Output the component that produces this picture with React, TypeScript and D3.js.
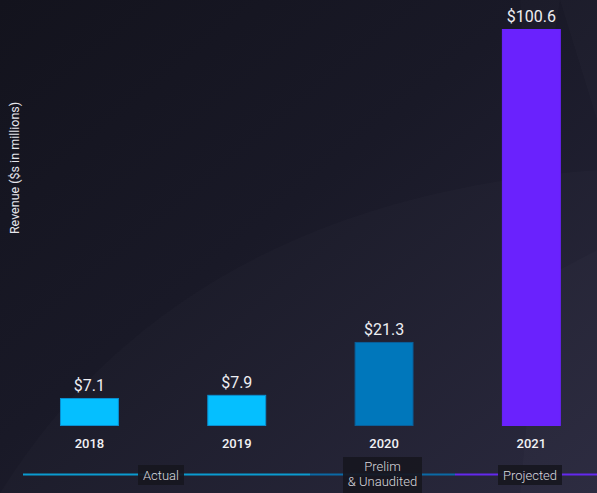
import { useEffect, useRef } from "react";
import * as d3 from "d3";

const years = ["2018", "2019", "2020", "2021"];
const revenue = [7.1, 7.9, 21.3, 100.6];
const barColors = ["#05bfff", "#05bfff", "#0077bb", "#6a22fd"];
const barStrokes = ["#0a8fd0", "#0a8fd0", "#0a5f9a", "#6a22fd"];
const valueLabels = ["$7.1", "$7.9", "$21.3", "$100.6"];

// status bands along the bottom line
const phases = ["Actual", "Prelim\n& Unaudited", "Projected"];
const phaseLineColors = ["#0a9bd0", "#0a6aa6", "#6428ee"];

const W = 597;
const H = 493;

export default function App() {
  const svgRef = useRef<SVGSVGElement>(null);

  useEffect(() => {
    document.body.style.margin = "0";
    const svg = d3.select(svgRef.current);
    svg.selectAll("*").remove();

    const defs = svg.append("defs");
    const bg = defs
      .append("linearGradient")
      .attr("id", "bg")
      .attr("x1", "0%")
      .attr("y1", "0%")
      .attr("x2", "100%")
      .attr("y2", "100%");
    bg.append("stop").attr("offset", "0%").attr("stop-color", "#13131d");
    bg.append("stop").attr("offset", "45%").attr("stop-color", "#191927");
    bg.append("stop").attr("offset", "100%").attr("stop-color", "#27263b");

    svg.append("rect").attr("width", W).attr("height", H).attr("fill", "url(#bg)");

    // faint decorative shapes in the background
    const shapes = [
      "M0,493 C120,300 320,190 597,170 L597,493 Z",
      "M520,0 L560,0 L530,190 Z",
      "M560,0 L597,0 L597,120 Z",
      "M540,280 L597,250 L597,493 L520,493 Z",
    ];
    svg
      .append("g")
      .selectAll("path")
      .data(shapes)
      .join("path")
      .attr("d", (d) => d)
      .attr("fill", "#ffffff")
      .attr("opacity", 0.014);

    const x = d3
      .scaleBand<string>()
      .domain(years)
      .range([15.8, 605])
      .paddingInner(0.6)
      .paddingOuter(0.3);

    const y = d3.scaleLinear().domain([0, 100.6]).range([426, 29]);

    const bars = svg.append("g");
    bars
      .selectAll("rect")
      .data(revenue)
      .join("rect")
      .attr("x", (_, i) => x(years[i])! + 0.5)
      .attr("y", (d) => y(d) + 0.5)
      .attr("width", x.bandwidth() - 1)
      .attr("height", (d) => y(0) - y(d) - 1)
      .attr("fill", (_, i) => barColors[i])
      .attr("stroke", (_, i) => barStrokes[i])
      .attr("stroke-width", 1);

    bars
      .selectAll("text.val")
      .data(revenue)
      .join("text")
      .attr("class", "val")
      .attr("x", (_, i) => x(years[i])! + x.bandwidth() / 2)
      .attr("y", (d) => y(d) - 7)
      .attr("text-anchor", "middle")
      .attr("fill", "#eeeef2")
      .attr("font-family", "Roboto, sans-serif")
      .attr("font-size", 16)
      .text((_, i) => valueLabels[i]);

    bars
      .selectAll("text.year")
      .data(years)
      .join("text")
      .attr("class", "year")
      .attr("x", (d) => x(d)! + x.bandwidth() / 2)
      .attr("y", 448)
      .attr("text-anchor", "middle")
      .attr("fill", "#f2f2f5")
      .attr("font-family", "Roboto, sans-serif")
      .attr("font-weight", 500)
      .attr("font-size", 13)
      .text((d) => d);

    // y axis title
    svg
      .append("text")
      .attr("transform", "translate(19,168) rotate(-90)")
      .attr("text-anchor", "middle")
      .attr("fill", "#e6e6ec")
      .attr("font-family", "Roboto, sans-serif")
      .attr("font-size", 12.5)
      .text("Revenue ($s in millions)");

    // bottom phase line
    const lineY = 474.5;
    const segs = [
      [23, 310],
      [310, 455],
      [455, 597],
    ];
    svg
      .append("g")
      .selectAll("line")
      .data(segs)
      .join("line")
      .attr("x1", (d) => d[0])
      .attr("x2", (d) => d[1])
      .attr("y1", lineY)
      .attr("y2", lineY)
      .attr("stroke", (_, i) => phaseLineColors[i])
      .attr("stroke-width", 2);

    const boxes = [
      { x: 138, y: 465, w: 46, h: 20, cx: 161 },
      { x: 343, y: 457, w: 79, h: 36, cx: 382.5 },
      { x: 498, y: 465, w: 64, h: 20, cx: 530 },
    ];
    const pg = svg.append("g");
    boxes.forEach((b, i) => {
      pg.append("rect")
        .attr("x", b.x)
        .attr("y", b.y)
        .attr("width", b.w)
        .attr("height", b.h)
        .attr("fill", "#17171f")
        .attr("opacity", 0.92);
      const lines = phases[i].split("\n");
      const t = pg
        .append("text")
        .attr("text-anchor", "middle")
        .attr("fill", "#d8d8de")
        .attr("font-family", "Roboto, sans-serif")
        .attr("font-weight", 300)
        .attr("font-size", 13);
      lines.forEach((ln, j) => {
        t.append("tspan")
          .attr("x", b.cx)
          .attr("y", lines.length === 1 ? 480 : 471 + j * 15)
          .text(ln);
      });
    });
  }, []);

  return (
    <svg
      ref={svgRef}
      width={W}
      height={H}
      style={{ display: "block", position: "absolute", left: 0, top: 0 }}
    />
  );
}
